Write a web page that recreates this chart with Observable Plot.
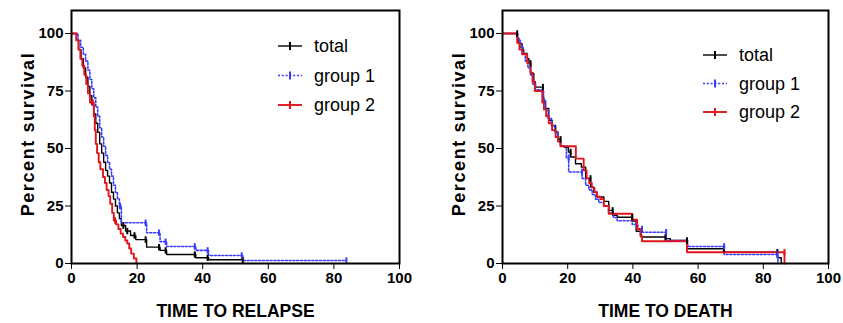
<!DOCTYPE html>
<html>
<head>
<meta charset="utf-8">
<script src="https://cdn.jsdelivr.net/npm/d3@7"></script>
<script src="https://cdn.jsdelivr.net/npm/@observablehq/plot@0.6"></script>
<style>
  body { margin: 0; background: white; }
  #wrap { position: relative; width: 843px; height: 323px; display: flex; }
  #legend { position: absolute; left: 0; top: 0; pointer-events: none; }
</style>
</head>
<body>
<div id="wrap"></div>
<script>
// ---------- DATA ----------
const seriesNames = ["total", "group 1", "group 2"];
const seriesColors = ["#000000", "#3b3bff", "#e0161e"];
const xTicks = [0, 20, 40, 60, 80, 100];
const yTicks = [0, 25, 50, 75, 100];
const yTitle = "Percent survival";

// Left panel: time to relapse
const relapseTotalT = [0, 1.5, 2.2, 2.9, 3.6, 4.3, 5.0, 5.6, 6.2, 6.8, 7.4, 8.0, 8.6, 9.2, 9.8, 10.4, 11.0, 11.6, 12.2, 12.8, 13.4, 14.0, 14.6, 15.2, 16.5, 18.0, 19.6, 22.9, 27.0, 29.0, 37.9, 41.8, 52.2];
const relapseTotalS = [100, 97, 93, 89, 85, 81, 77, 73, 69, 65, 61, 57, 52, 48, 44, 40.5, 38, 35, 31, 28, 25, 22, 19.5, 16.5, 14.1, 12.2, 10.4, 7.1, 5.7, 3.9, 2.5, 1.6, 1.6];
const relapseG1T = [0, 2.0, 2.8, 3.6, 4.3, 5.0, 5.6, 6.2, 6.8, 7.4, 8.0, 8.6, 9.2, 9.8, 10.4, 11.0, 11.6, 12.2, 12.8, 13.4, 14.0, 14.6, 15.2, 22.9, 27.0, 29.0, 37.9, 41.8, 52.2, 83.8];
const relapseG1S = [100, 97, 94, 91, 88, 84, 80, 76, 72, 68, 64, 59, 55, 51, 47, 44, 41, 38, 34, 31, 28, 25, 17.7, 13.4, 9.5, 7.4, 5.7, 3.5, 1.3, 1.3];
const relapseG2T = [0, 1.5, 2.1, 2.7, 3.3, 3.9, 4.5, 5.0, 5.6, 6.8, 7.1, 7.4, 7.8, 8.3, 8.8, 9.6, 10.2, 10.7, 11.3, 11.8, 12.4, 12.9, 13.6, 14.3, 15.0, 15.7, 16.4, 17.0, 17.6, 18.2, 19.0, 19.8];
const relapseG2S = [100, 97, 93, 89, 86, 82, 78, 74, 70, 64, 58, 52, 48, 44, 41, 37.6, 35, 32, 29.3, 26, 22, 18.7, 17, 15, 13, 11.5, 10, 8.7, 6.5, 4.3, 2.2, 0];
const relapseTotalCensT = [15.8, 17.0, 19.2, 22.6, 26.7, 28.7, 37.6, 41.5, 52.2];
const relapseTotalCensS = [16.5, 14.1, 12.2, 10.4, 7.1, 5.7, 3.9, 2.5, 1.6];
const relapseG1CensT = [14.8, 22.6, 26.7, 28.7, 37.6, 41.5, 51.9, 83.8];
const relapseG1CensS = [25, 17.7, 13.4, 9.5, 7.4, 5.7, 3.5, 1.3];
const relapseG2CensT = [6.5, 13.3];
const relapseG2CensS = [70, 18.7];

// Right panel: time to death
const deathTotalT = [0, 4.5, 5.0, 6.0, 6.5, 7.6, 8.1, 8.6, 9.6, 10.1, 12.4, 12.7, 13.2, 14.2, 15.2, 16.3, 17.0, 17.8, 19.0, 20.2, 20.9, 22.4, 24.2, 25.5, 27.0, 28.0, 29.0, 31.1, 32.6, 33.8, 35.2, 39.8, 41.0, 42.5, 50.0, 51.5, 56.6, 67.9, 84.3, 85.5];
const deathTotalS = [100, 98, 95.6, 93, 91.3, 89, 87, 82.6, 79, 76.7, 72, 70, 67.4, 62.3, 60, 57.2, 54, 51, 50.5, 48.5, 46.3, 43.4, 41.9, 37, 33.2, 31, 28.9, 27, 23.1, 21, 20.1, 18.5, 14, 11.5, 10.8, 10, 6.4, 4.9, 2.5, 0];
const deathG1T = [0, 4.7, 5.5, 6.3, 7.0, 7.8, 8.6, 9.3, 10.1, 12.6, 13.2, 14.0, 15.0, 16.0, 17.0, 17.8, 19.6, 20.3, 24.4, 25.5, 26.5, 27.5, 28.5, 29.5, 31.0, 32.5, 34.0, 35.2, 39.8, 41.5, 42.8, 50.2, 56.8, 68.0, 84.5];
const deathG1S = [100, 97, 94, 91, 88, 85, 82, 78, 75.5, 71, 67, 63, 60, 57, 54, 51, 46, 39.8, 37, 34, 32, 30, 28, 26.5, 25, 22, 20, 18.6, 17, 15, 13.6, 10, 7.4, 3.9, 0];
const deathG2T = [0, 4.5, 5.2, 6.0, 7.6, 8.6, 9.2, 9.9, 12.2, 12.7, 13.4, 14.2, 15.2, 16.3, 17.0, 17.8, 22.5, 24.9, 25.8, 26.6, 27.4, 28.2, 29.0, 30.0, 31.1, 32.6, 39.8, 41.3, 42.3, 42.8, 56.6, 86.5];
const deathG2S = [100, 96, 93, 91, 87, 83, 79, 75, 70, 67, 64, 61, 58, 55, 53, 51, 45.6, 40.5, 37, 35, 33, 31, 29, 28, 25, 21.6, 19, 15, 12, 9.7, 4.9, 0];
const deathTotalCensT = [4.5, 8.6, 12.4, 17.8, 20.9, 27.0, 33.8, 39.8, 50.0, 56.6, 67.9, 84.3];
const deathTotalCensS = [100, 87, 76.7, 54, 48.5, 37, 23.1, 20.1, 11.5, 10, 6.4, 4.9];
const deathG1CensT = [20.3, 24.4, 42.8, 50.2, 68.0, 84.3];
const deathG1CensS = [46, 39.8, 15, 13.6, 7.4, 3.9];
const deathG2CensT = [86.5];
const deathG2CensS = [4.9];

// ---------- BUILD ----------
function rows(T, S, name) { return T.map((t, i) => ({t, s: S[i], name})); }

const vtick = { draw(ctx, size) { const r = Math.sqrt(size / Math.PI); ctx.moveTo(0, -r); ctx.lineTo(0, r); } };

const styleFor = {
  "total":   {stroke: seriesColors[0], strokeWidth: 1.4},
  "group 1": {stroke: seriesColors[1], strokeWidth: 1.6, strokeDasharray: "2,1.8"},
  "group 2": {stroke: seriesColors[2], strokeWidth: 1.9}
};

function panel(opts) {
  const marks = [];
  opts.curves.forEach(c => {
    marks.push(Plot.line(rows(c.T, c.S, c.name), {x: "t", y: "s", curve: "step-after", ...styleFor[c.name]}));
  });
  opts.curves.forEach(c => {
    marks.push(Plot.dot(rows(c.CT, c.CS, c.name), {x: "t", y: "s", symbol: vtick, r: 3.2,
      stroke: styleFor[c.name].stroke, strokeWidth: 2, fill: "none"}));
  });
  marks.push(Plot.frame({stroke: "black", strokeWidth: 2}));
  marks.push(Plot.text([opts.xlabel], {frameAnchor: "bottom", dy: 48, text: d => d,
    fontSize: 17.5, fontWeight: "bold", lineAnchor: "middle", textAnchor: "middle"}));
  marks.push(Plot.text([yTitle], {frameAnchor: "left", dx: -43, rotate: -90, text: d => d,
    fontSize: 18, fontWeight: "bold", lineAnchor: "middle", textAnchor: "middle", dy: -3}));
  const svg = Plot.plot({
    width: opts.width, height: 323,
    marginLeft: opts.ml, marginRight: opts.mr, marginTop: 10, marginBottom: 60,
    style: {fontFamily: "'Liberation Sans', Arial, sans-serif", fontSize: "15px", fontWeight: "bold",
      background: "white", color: "black", overflow: "visible"},
    x: {domain: [0, 100], ticks: xTicks, tickSize: 6, tickPadding: 3, label: null},
    y: {domain: [0, 110], ticks: yTicks, tickSize: 6, tickPadding: 2, label: null},
    marks
  });
  d3.select(svg).selectAll("text").filter(function() { return this.textContent === yTitle; })
    .style("letter-spacing", "1.6px");
  return svg;
}

const wrap = document.getElementById("wrap");
const left = panel({
  width: 421, ml: 71, mr: 22, xlabel: "TIME TO RELAPSE",
  curves: [
    {name: "total", T: relapseTotalT, S: relapseTotalS, CT: relapseTotalCensT, CS: relapseTotalCensS},
    {name: "group 1", T: relapseG1T, S: relapseG1S, CT: relapseG1CensT, CS: relapseG1CensS},
    {name: "group 2", T: relapseG2T, S: relapseG2S, CT: relapseG2CensT, CS: relapseG2CensS}
  ]
});
const right = panel({
  width: 422, ml: 81, mr: 15, xlabel: "TIME TO DEATH",
  curves: [
    {name: "total", T: deathTotalT, S: deathTotalS, CT: deathTotalCensT, CS: deathTotalCensS},
    {name: "group 1", T: deathG1T, S: deathG1S, CT: deathG1CensT, CS: deathG1CensS},
    {name: "group 2", T: deathG2T, S: deathG2S, CT: deathG2CensT, CS: deathG2CensS}
  ]
});
wrap.appendChild(left);
wrap.appendChild(right);

// ---------- LEGENDS ----------
const lg = d3.select(wrap).append("svg").attr("id", "legend").attr("width", 843).attr("height", 323);
const legendPos = [{x: 278, y: 46, gap: 29.5}, {x: 703, y: 55, gap: 28.5}];
legendPos.forEach(p => {
  seriesNames.forEach((n, i) => {
    const st = styleFor[n];
    const g = lg.append("g").attr("transform", `translate(${p.x},${p.y + i * p.gap})`);
    g.append("line").attr("x1", 0).attr("x2", 24).attr("y1", 0).attr("y2", 0)
      .attr("stroke", st.stroke).attr("stroke-width", st.strokeWidth)
      .attr("stroke-dasharray", st.strokeDasharray || null);
    g.append("line").attr("x1", 12).attr("x2", 12).attr("y1", -4).attr("y2", 4)
      .attr("stroke", st.stroke).attr("stroke-width", 2);
    g.append("text").attr("x", 36).attr("y", 6).text(n)
      .attr("font-family", "'Liberation Sans', Arial, sans-serif").attr("font-size", 18).attr("fill", "black");
  });
});
</script>
</body>
</html>
